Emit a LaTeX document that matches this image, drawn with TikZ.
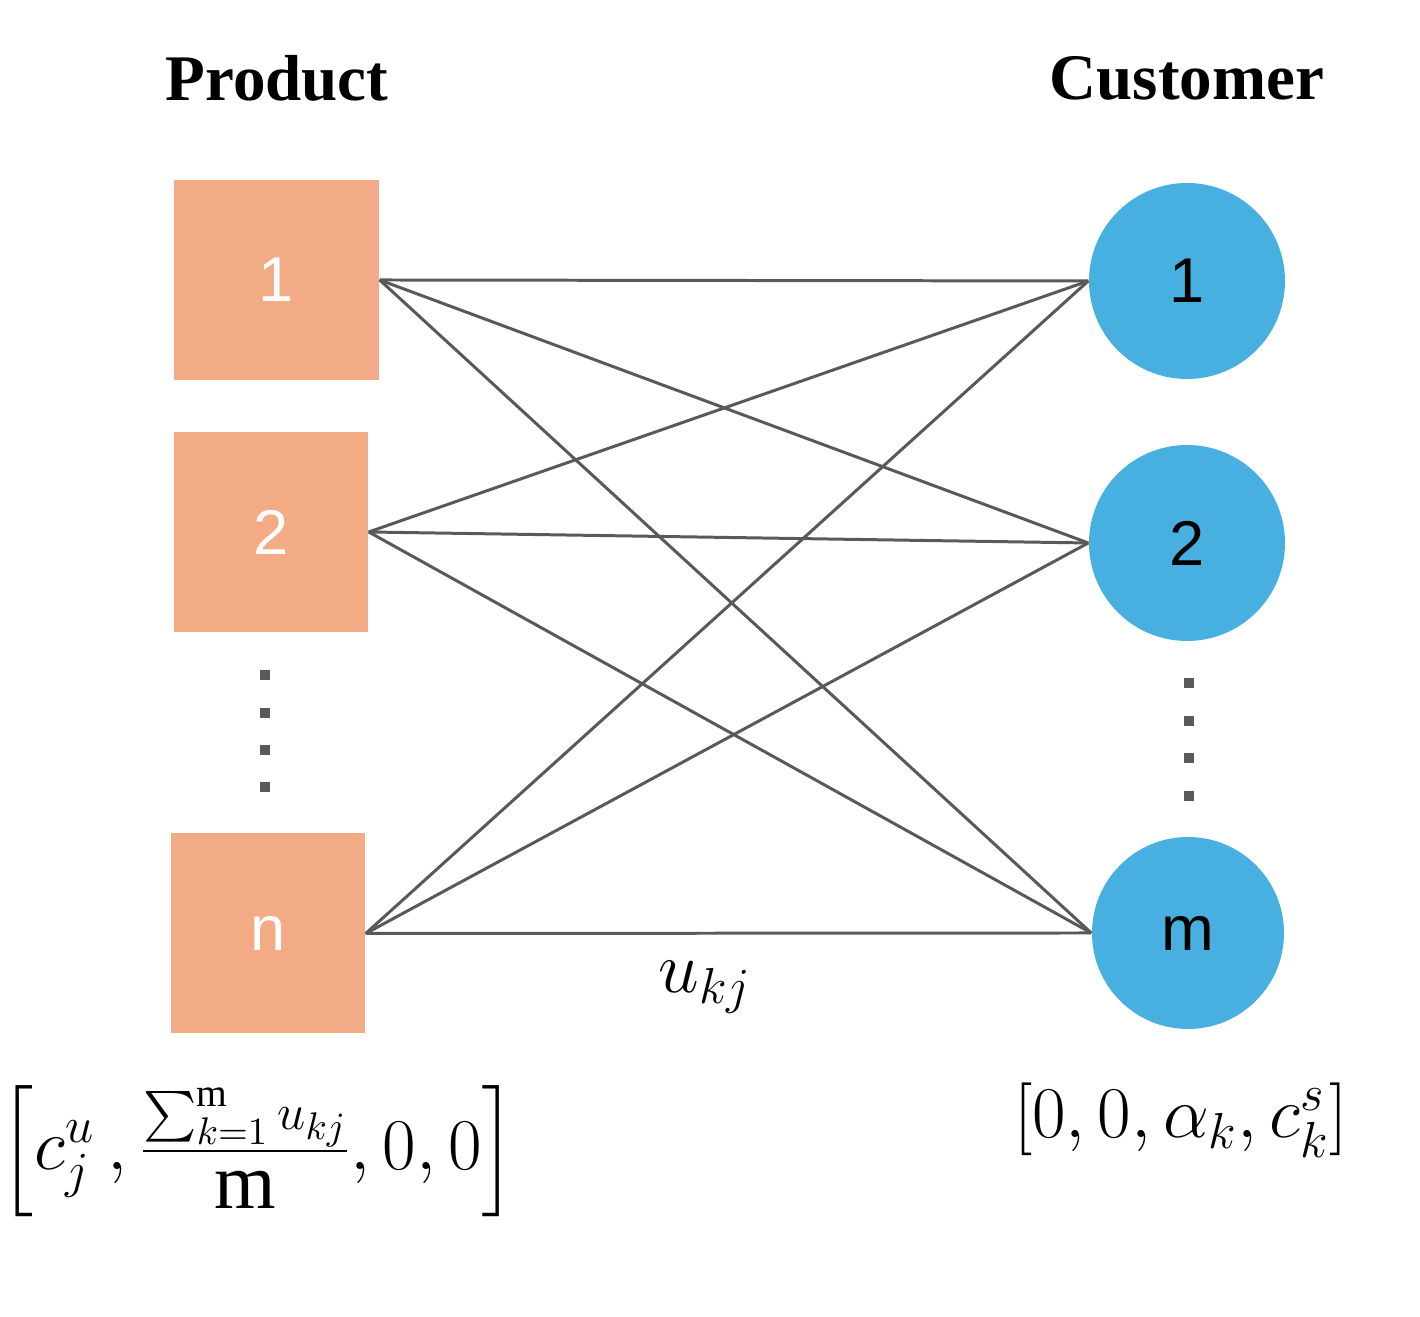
\documentclass[tikz,border=0pt]{standalone}
\usepackage{fontspec}
\setmainfont{Liberation Serif}
\setsansfont{Liberation Sans}
\usepackage{amsmath}
\definecolor{prodfill}{HTML}{F2AB85}
\definecolor{custfill}{HTML}{47B0E0}
\definecolor{edgegray}{HTML}{595959}
\begin{document}
\begin{tikzpicture}[scale=1,
    prodbox/.style={draw=none, fill=prodfill, minimum height=2cm, inner sep=0pt,
      text=white, font=\sffamily\fontsize{18}{20}\selectfont},
    custnode/.style={circle, draw=none, fill=custfill, minimum size=1.96cm, inner sep=0pt,
      font=\sffamily\fontsize{18}{20}\selectfont},
    link/.style={draw=edgegray, line width=0.85pt},
    vdot/.style={fill=edgegray, minimum size=0.1cm, inner sep=0pt},
    header/.style={font=\bfseries\fontsize{18.5}{22}\selectfont},
    mathlabel/.style={font=\fontsize{22.5}{26}\selectfont}]
        \useasboundingbox (0,0) rectangle (14.2,13.17);
        % \draw[help lines, gray!50, very thin] (0,0) grid (14,13);

        \node[header] (prodhead) at (2.77,12.39) {Product};
        \node[header] (custhead) at (11.87,12.39) {Customer};

        % products
        \node[prodbox, minimum width=2.05cm] (p1) at (2.765,10.37) {1};
        \node[prodbox, minimum width=1.94cm] (p2) at (2.71,7.85) {2};
        \node[prodbox, minimum width=1.94cm] (pn) at (2.68,3.835) {n};

        % customers
        \node[custnode] (c1) at (11.87,10.36) {1};
        \node[custnode] (c2) at (11.87,7.74) {2};
        \node[custnode, minimum size=1.92cm] (cm) at (11.88,3.84) {m};

        \foreach \p in {p1,p2,pn}
          \foreach \c in {c1,c2,cm}
            \draw[link] (\p.east) -- (\c.west);

        \foreach \y [count=\i] in {6.42,6.04,5.67,5.30}
          \node[vdot] (ldot\i) at (2.65,\y) {};
        \foreach \y [count=\i] in {6.34,5.96,5.59,5.21}
          \node[vdot] (rdot\i) at (11.89,\y) {};

        \node[mathlabel] (ukj) at (7.05,3.30) {$u_{kj}$};

        \node[mathlabel] (prodvec) at (2.58,1.66)
          {$\Big[c_j^u\,,\frac{\sum_{k=1}^{\mathrm{m}}u_{kj}\rule[-4pt]{0pt}{0pt}}{\rule{0pt}{15pt}\textstyle\mathrm{m}},0,0\Big]$};
        \node[mathlabel] (custvec) at (11.81,1.97) {$[0,0,\alpha_k,c_k^s]$};
      \end{tikzpicture}
\end{document}
